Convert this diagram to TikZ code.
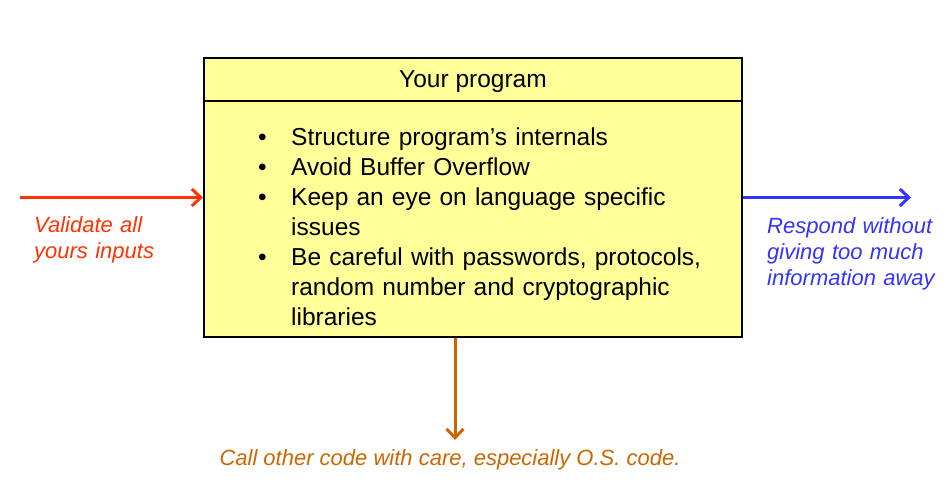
\documentclass[tikz,border=0pt]{standalone}
\usepackage{fontspec}
\setmainfont{Liberation Sans}
\usepackage{tikz}
\usetikzlibrary{positioning,arrows.meta}
\definecolor{boxfillc}{RGB}{255,255,153}
\definecolor{inc}{RGB}{255,51,0}
\definecolor{outc}{RGB}{51,51,255}
\definecolor{osc}{RGB}{204,102,0}
\tikzset{
  progbox/.style  = {draw=black, line width=2pt, fill=boxfillc, inner sep=0pt},
  boxrule/.style  = {draw=black, line width=2pt},
  bodytxt/.style  = {font=\fontsize{24.5}{30}\selectfont, inner sep=0pt},
  note/.style     = {font=\fontsize{22}{26}\selectfont\itshape, inner sep=0pt},
  flow/.style     = {-{Straight Barb[length=9pt, width=17pt]}, line width=3pt},
}
\newcommand{\bitem}[1]{\hangindent=33pt\hangafter=1\noindent\makebox[33pt][l]{\textbullet}#1\par}

\begin{document}
\begin{tikzpicture}[x=1pt, y=-1pt]
\useasboundingbox (0,0) rectangle (950,487);

% ---- the program box ----
\node[progbox, minimum width=538pt, minimum height=279pt] (prog) at (473,197.5) {};
\node[bodytxt] (title) at (473,82) {Your program};
\coordinate (sep) at (0,101);
\draw[boxrule] (prog.west |- sep) -- (prog.east |- sep);
\node[bodytxt, text width=470pt, anchor=base west] (items) at (258,145)
  {\bitem{Structure program’s internals}
   \bitem{Avoid Buffer Overflow}
   \bitem{Keep an eye on language specific\newline issues}
   \bitem{Be careful with passwords, protocols,\newline random number and cryptographic\newline libraries}};

% ---- inputs, outputs, calls ----
\coordinate (inL) at (20,197.5);
\coordinate (outR) at (911,197.5);
\coordinate (down) at (455,440);
\draw[flow, inc] (inL) -- (prog.west);
\draw[flow, outc] (prog.east) -- (outR);
\draw[flow, osc] (prog.south -| down) -- (down);

\node[note, text=inc, text width=180pt, anchor=base west] (validate) at (34,232)
  {Validate all\\yours inputs};
\node[note, text=outc, text width=185pt, anchor=base west] (respond) at (767,233)
  {Respond without\\giving too much\\information away};
\node[note, text=osc] (callos) at (450,460) {Call other code with care, especially O.S. code.};

\end{tikzpicture}
\end{document}
